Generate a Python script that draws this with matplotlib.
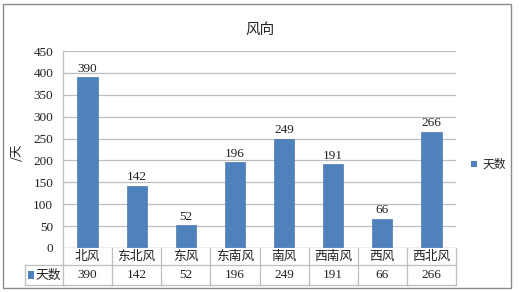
import matplotlib
matplotlib.use("Agg")
import matplotlib.pyplot as plt
import matplotlib.transforms as mtrans
from matplotlib.patches import Rectangle

plt.rcParams['font.family'] = ['Liberation Serif', 'Noto Sans CJK SC', 'DejaVu Sans']

categories = ['北风', '东北风', '东风', '东南风', '南风', '西南风', '西风', '西北风']
values = [390, 142, 52, 196, 249, 191, 66, 266]
series_name = '天数'
title = '风向'
ylabel = '/天'
yticks = [0, 50, 100, 150, 200, 250, 300, 350, 400, 450]

W, H = 519, 292
fig = plt.figure(figsize=(W / 100, H / 100), dpi=100)
fig.patch.set_facecolor('white')

# outer frame
fig.patches.append(Rectangle((3 / W, 4 / H), 508 / W, 284 / H, transform=fig.transFigure,
                             fill=False, edgecolor='#8c8c8c', linewidth=1.0))

px_l, px_r, px_t, px_b = 63, 456, 51, 248
ax = fig.add_axes([px_l / W, 1 - px_b / H, (px_r - px_l) / W, (px_b - px_t) / H])

color = '#4F81BD'
grid_c = '#BEBEBE'
txt_c = '#222222'
cjk = ['Noto Sans CJK SC', 'DejaVu Sans']
fs_num = 9.5
fs_cjk = 9.2
x = list(range(len(categories)))
ax.bar(x, values, width=0.41, color=color, edgecolor='#3d6a9e', linewidth=0.4, zorder=3)
for xi, v in zip(x, values):
    ax.text(xi, v + 6, str(v), ha='center', va='bottom', fontsize=fs_num, color=txt_c)

ax.set_xlim(-0.5, len(categories) - 0.5)
ax.set_ylim(0, 450)
ax.set_yticks(yticks)
ax.set_yticklabels([str(t) for t in yticks], fontsize=fs_num, color=txt_c)
ax.tick_params(axis='y', length=0, pad=7)
ax.set_xticks([])
ax.yaxis.grid(True, color=grid_c, linewidth=0.9, zorder=0)
for s in ['top', 'right', 'bottom']:
    ax.spines[s].set_visible(False)
ax.spines['left'].set_color(grid_c)
ax.spines['left'].set_linewidth(0.9)
ax.axhline(0, color=grid_c, linewidth=0.9, zorder=4)

# data table
tr = mtrans.blended_transform_factory(ax.transData, ax.transAxes)
ph = px_b - px_t
r1 = -(265 - px_b) / ph
r2 = -(285 - px_b) / ph
left_x = -0.5 - (px_l - 25) * len(categories) / (px_r - px_l)
xr = len(categories) - 0.5
lk = dict(color=grid_c, linewidth=0.9, transform=tr, clip_on=False)
ax.plot([left_x, xr], [r1, r1], **lk)
ax.plot([left_x, xr], [r2, r2], **lk)
ax.plot([left_x, left_x], [r1, r2], **lk)
for i in range(len(categories) + 1):
    ax.plot([i - 0.5, i - 0.5], [0, r2], **lk)
for xi, c, v in zip(x, categories, values):
    ax.text(xi, (0 + r1) / 2, c, ha='center', va='center', fontsize=fs_cjk, color=txt_c,
            transform=tr, family=cjk)
    ax.text(xi, (r1 + r2) / 2, str(v), ha='center', va='center', fontsize=fs_num, color=txt_c,
            transform=tr)
lx = left_x + 0.07
ax.add_patch(Rectangle((lx, (r1 + r2) / 2 - 0.02), 0.11, 0.04, transform=tr,
                       facecolor=color, clip_on=False))
ax.text(lx + 0.14, (r1 + r2) / 2, series_name, ha='left', va='center', fontsize=fs_cjk,
        color=txt_c, transform=tr, family=cjk)

# title
fig.text(260 / W, 1 - 30 / H, title, ha='center', va='center', fontsize=10.5, color=txt_c,
         family=cjk)
# y label
fig.text(17 / W, 1 - 152 / H, ylabel, ha='center', va='center', rotation=90, fontsize=9,
         color=txt_c, family=cjk)
# legend
fig.patches.append(Rectangle((471 / W, 1 - 167 / H), 6 / W, 6 / H, transform=fig.transFigure,
                             facecolor=color, edgecolor='none'))
fig.text(483 / W, 1 - 164 / H, series_name, ha='left', va='center', fontsize=8.5,
         color=txt_c, family=cjk)

fig.savefig('out.png', dpi=100, facecolor='white')
